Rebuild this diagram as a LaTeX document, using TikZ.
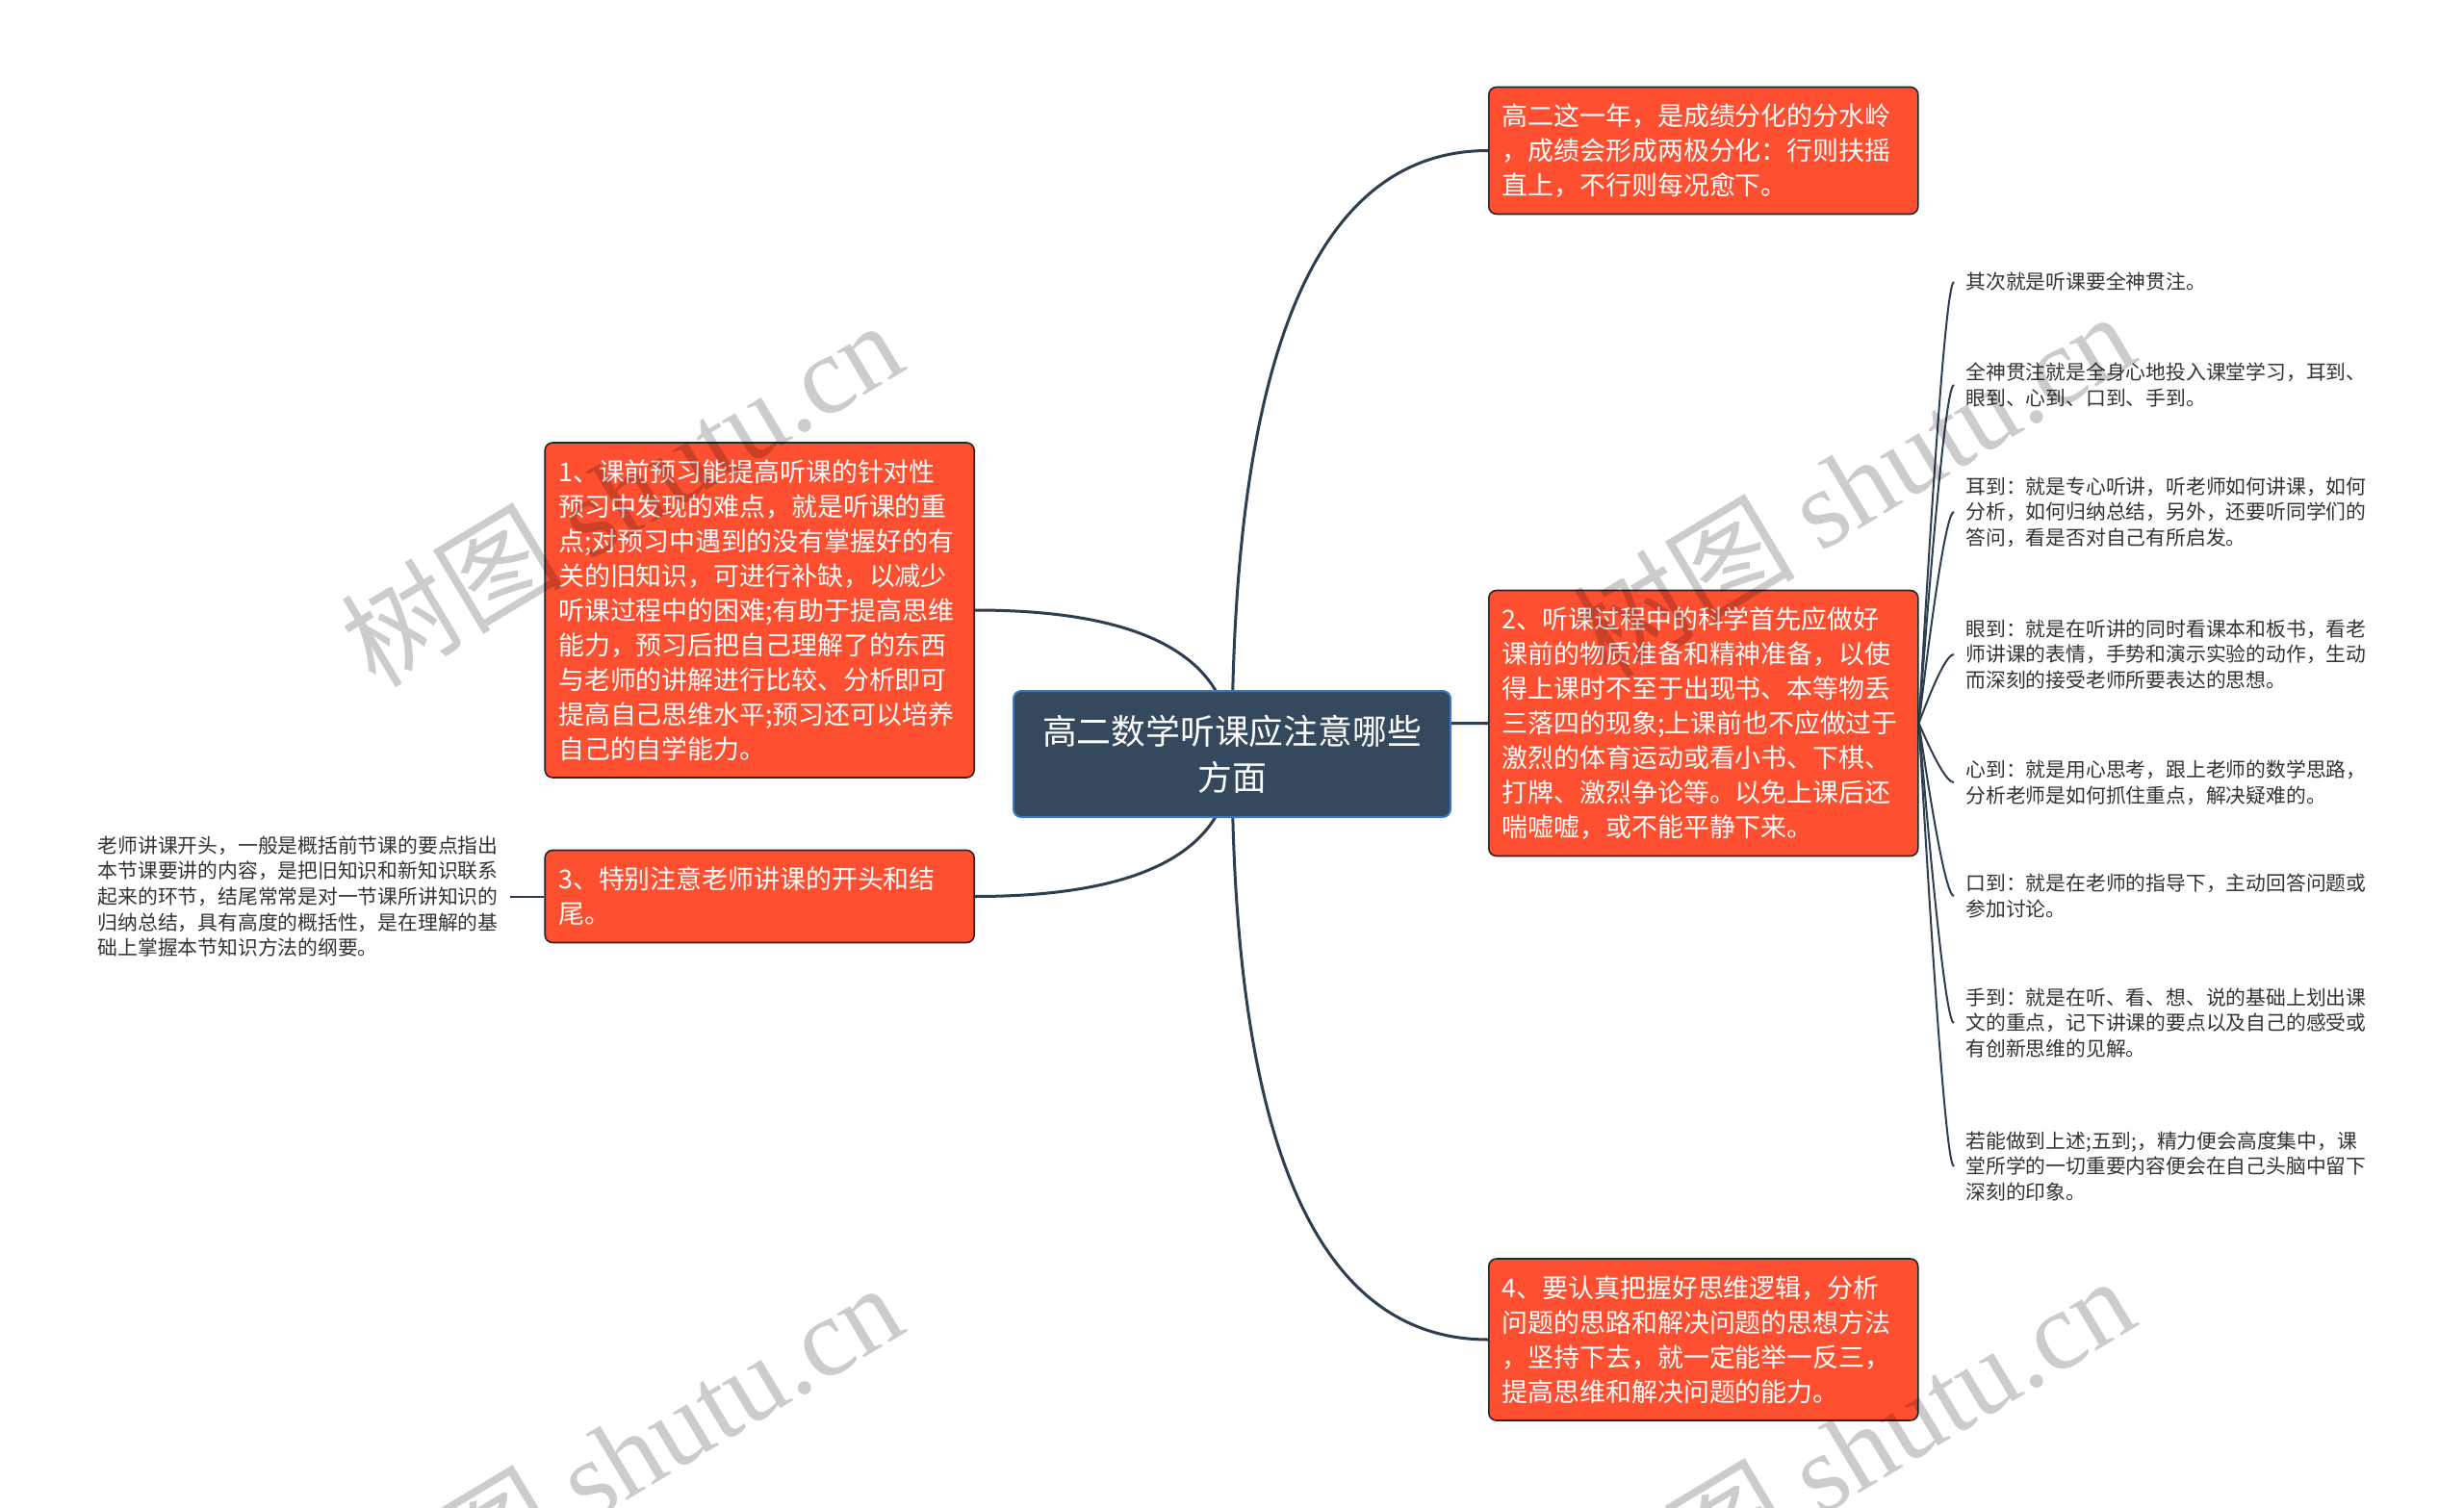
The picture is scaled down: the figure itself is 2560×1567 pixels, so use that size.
\documentclass[tikz,border=0pt]{standalone}
\usepackage{fontspec}
\setmainfont{Noto Sans CJK SC}
\newfontfamily\wmserif{Liberation Serif}
\usetikzlibrary{backgrounds,calc}
\definecolor{nodeorange}{HTML}{FE5030}
\definecolor{rootfill}{HTML}{34495E}
\definecolor{rootborder}{HTML}{3C78C8}
\definecolor{linkcol}{HTML}{2C3E50}
\definecolor{leaftext}{HTML}{333333}
\begin{document}
\begin{tikzpicture}[x=0.5pt,y=-0.5pt,
  rootbox/.style={draw=rootborder, line width=1pt, fill=rootfill, rounded corners=4pt, text=white, minimum width=227pt, minimum height=65.5pt, align=center, font=\fontsize{17.9pt}{24pt}\selectfont, inner sep=0pt},
  topicbox/.style={draw=black!85, line width=0.8pt, fill=nodeorange, rounded corners=4pt, text=white, text width=209pt, inner xsep=7pt, inner ysep=1pt, align=left, font=\fontsize{13.45pt}{18pt}\selectfont},
  leaftxt/.style={text=leaftext, align=left, inner xsep=6pt, inner ysep=1pt, font=\fontsize{10.4pt}{13.3pt}\selectfont},
  mainlink/.style={draw=linkcol, line width=1.5pt},
  sublink/.style={draw=linkcol, line width=1pt},
  wmark/.style={text=black, text opacity=0.2, rotate=31, font=\fontsize{58pt}{58pt}\selectfont, inner sep=0pt}
]
\useasboundingbox (0,0) rectangle (2560,1567);

% root
\node[rootbox] (root) at (1280,783.5) {高二数学听课应注意哪些\\方面};

% main topics
\node[topicbox, minimum height=66pt, anchor=west] (top) at (1546,156.5) {高二这一年，是成绩分化的分水岭\\，成绩会形成两极分化：行则扶摇\\直上，不行则每况愈下。};
\node[topicbox, minimum height=174pt, anchor=east] (n1) at (1013,634) {1、课前预习能提高听课的针对性\\预习中发现的难点，就是听课的重\\点;对预习中遇到的没有掌握好的有\\关的旧知识，可进行补缺，以减少\\听课过程中的困难;有助于提高思维\\能力，预习后把自己理解了的东西\\与老师的讲解进行比较、分析即可\\提高自己思维水平;预习还可以培养\\自己的自学能力。};
\node[topicbox, minimum height=138pt, anchor=west] (n2) at (1546,751.5) {2、听课过程中的科学首先应做好\\课前的物质准备和精神准备，以使\\得上课时不至于出现书、本等物丢\\三落四的现象;上课前也不应做过于\\激烈的体育运动或看小书、下棋、\\打牌、激烈争论等。以免上课后还\\喘嘘嘘，或不能平静下来。};
\node[topicbox, minimum height=48pt, anchor=east] (n3) at (1013,931.5) {3、特别注意老师讲课的开头和结\\尾。};
\node[topicbox, minimum height=84pt, anchor=west] (n4) at (1546,1392) {4、要认真把握好思维逻辑，分析\\问题的思路和解决问题的思想方法\\，坚持下去，就一定能举一反三，\\提高思维和解决问题的能力。};

% leaves
\node[leaftxt, anchor=east] (l1) at (530,931.5) {老师讲课开头，一般是概括前节课的要点指出\\本节课要讲的内容，是把旧知识和新知识联系\\起来的环节，结尾常常是对一节课所讲知识的\\归纳总结，具有高度的概括性，是在理解的基\\础上掌握本节知识方法的纲要。};
\node[leaftxt, anchor=west] (r1) at (2030,293) {其次就是听课要全神贯注。};
\node[leaftxt, anchor=west] (r2) at (2030,400) {全神贯注就是全身心地投入课堂学习，耳到、\\眼到、心到、口到、手到。};
\node[leaftxt, anchor=west] (r3) at (2030,532) {耳到：就是专心听讲，听老师如何讲课，如何\\分析，如何归纳总结，另外，还要听同学们的\\答问，看是否对自己有所启发。};
\node[leaftxt, anchor=west] (r4) at (2030,680) {眼到：就是在听讲的同时看课本和板书，看老\\师讲课的表情，手势和演示实验的动作，生动\\而深刻的接受老师所要表达的思想。};
\node[leaftxt, anchor=west] (r5) at (2030,813) {心到：就是用心思考，跟上老师的数学思路，\\分析老师是如何抓住重点，解决疑难的。};
\node[leaftxt, anchor=west] (r6) at (2030,931) {口到：就是在老师的指导下，主动回答问题或\\参加讨论。};
\node[leaftxt, anchor=west] (r7) at (2030,1063) {手到：就是在听、看、想、说的基础上划出课\\文的重点，记下讲课的要点以及自己的感受或\\有创新思维的见解。};
\node[leaftxt, anchor=west] (r8) at (2030,1212) {若能做到上述;五到;，精力便会高度集中，课\\堂所学的一切重要内容便会在自己头脑中留下\\深刻的印象。};

\begin{scope}[on background layer]
\fill[white] (0,0) rectangle (2560,1567);
\foreach \t/\a in {top/west, n1/east, n2/west, n3/east, n4/west} {
  \coordinate (k\t) at (root.center |- \t.\a);
  \draw[mainlink] (root.center) .. controls ($(root.center)!0.667!(k\t)$) and ($(\t.\a)!0.667!(k\t)$) .. (\t.\a);
}
\foreach \l in {r1,r2,r3,r4,r5,r6,r7,r8} {
  \coordinate (c\l) at ($(\l.west)+(-10,0)$);
  \draw[sublink] (n2.east) .. controls ($(n2.east)!0.667!(c\l)$) and ($(\l.west)!0.667!(c\l)$) .. (\l.west);
}
\draw[sublink] (n3.west) -- (l1.east);
\end{scope}

% watermarks
\node[wmark] (wm1) at (645,512) {树图 {\wmserif shutu.cn}};
\node[wmark] (wm2) at (1925,503) {树图 {\wmserif shutu.cn}};
\node[wmark] (wm3) at (645,1512) {树图 {\wmserif shutu.cn}};
\node[wmark] (wm4) at (1925,1505) {树图 {\wmserif shutu.cn}};
\end{tikzpicture}
\end{document}
